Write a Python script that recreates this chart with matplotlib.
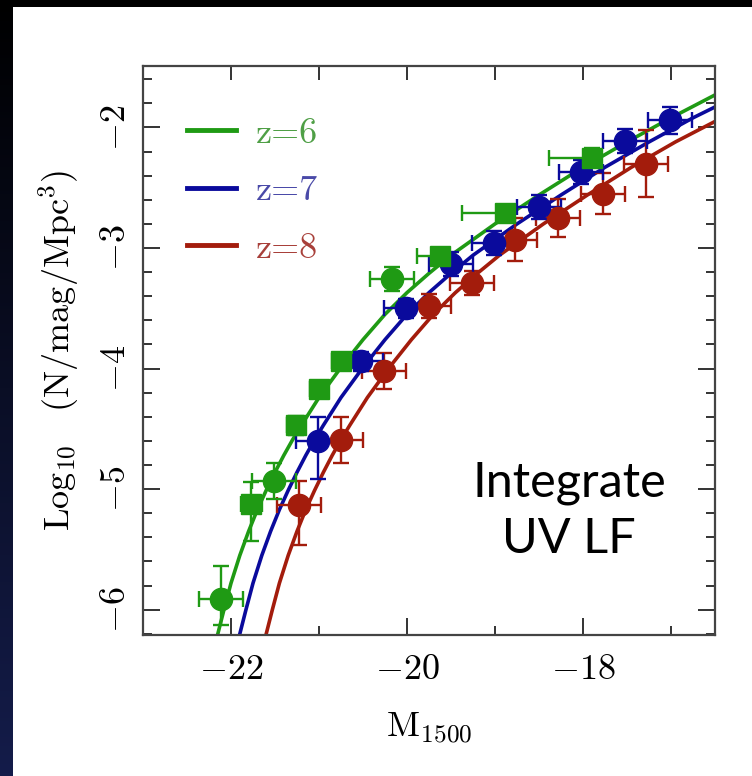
import numpy as np
import matplotlib.pyplot as plt
from matplotlib.colors import LinearSegmentedColormap
from matplotlib.ticker import MultipleLocator, FixedLocator, FuncFormatter, NullFormatter

plt.rcParams['mathtext.fontset'] = 'cm'

# colours
c6 = '#1f9a14'
c7 = '#0a0a9c'
c8 = '#a31c0c'

# z=6 data (circles and squares)
z6_circ_m = [-22.11, -21.51, -20.17]
z6_circ_phi = [-5.91, -4.93, -3.26]
z6_circ_dm = [0.25, 0.25, 0.25]
z6_circ_lo = [0.22, 0.15, 0.10]
z6_circ_hi = [0.27, 0.15, 0.10]

z6_sq_m = [-21.77, -21.26, -21.00, -20.75, -19.62, -18.89, -17.90]
z6_sq_phi = [-5.12, -4.47, -4.17, -3.94, -3.07, -2.71, -2.25]
z6_sq_dm_lo = [0.12, 0.10, 0.10, 0.10, 0.27, 0.49, 0.49]
z6_sq_dm_hi = [0.12, 0.10, 0.10, 0.10, 0.10, 0.10, 0.10]
z6_sq_lo = [0.31, 0.08, 0.07, 0.06, 0.06, 0.06, 0.08]
z6_sq_hi = [0.18, 0.08, 0.07, 0.06, 0.06, 0.06, 0.08]

# z=7 data
z7_m = [-21.01, -20.52, -20.01, -19.50, -19.01, -18.50, -18.02, -17.52, -17.01]
z7_phi = [-4.60, -3.94, -3.50, -3.13, -2.96, -2.66, -2.37, -2.11, -1.94]
z7_dm = [0.25, 0.25, 0.25, 0.25, 0.25, 0.25, 0.25, 0.25, 0.25]
z7_lo = [0.32, 0.08, 0.08, 0.10, 0.10, 0.10, 0.10, 0.10, 0.11]
z7_hi = [0.20, 0.08, 0.08, 0.10, 0.10, 0.10, 0.10, 0.10, 0.11]

# z=8 data
z8_m = [-21.23, -20.75, -20.26, -19.75, -19.26, -18.77, -18.28, -17.77, -17.28]
z8_phi = [-5.13, -4.59, -4.02, -3.48, -3.29, -2.93, -2.75, -2.55, -2.30]
z8_dm = [0.25, 0.25, 0.25, 0.25, 0.25, 0.25, 0.25, 0.25, 0.25]
z8_lo = [0.33, 0.19, 0.15, 0.10, 0.10, 0.18, 0.16, 0.17, 0.28]
z8_hi = [0.20, 0.19, 0.15, 0.10, 0.10, 0.18, 0.16, 0.17, 0.28]

# fitted curves
fit6_m = [-22.16, -22.08, -22.0, -21.9, -21.8, -21.7, -21.6, -21.5, -21.4, -21.3, -21.2,
          -21.0, -20.75, -20.5, -20.25, -20.0, -19.75, -19.5, -19.0, -18.5, -18.0,
          -17.5, -17.0, -16.5]
fit6_phi = [-6.23, -6.00, -5.78, -5.55, -5.35, -5.17, -5.01, -4.86, -4.72, -4.59, -4.47,
            -4.24, -3.99, -3.76, -3.55, -3.37, -3.21, -3.06, -2.80, -2.56, -2.33,
            -2.12, -1.92, -1.73]
fit7_m = [-21.91, -21.83, -21.75, -21.65, -21.55, -21.45, -21.35, -21.25, -21.15, -21.05,
          -20.95, -20.75, -20.5, -20.25, -20.0, -19.75, -19.5, -19.25, -18.75, -18.25,
          -17.75, -17.25, -16.75, -16.5]
fit7_phi = [-6.23, -6.00, -5.78, -5.55, -5.35, -5.17, -5.01, -4.86, -4.72, -4.59,
            -4.47, -4.24, -3.99, -3.76, -3.55, -3.37, -3.21, -3.06, -2.80, -2.56,
            -2.33, -2.12, -1.92, -1.83]
fit8_m = [-21.61, -21.53, -21.45, -21.35, -21.25, -21.15, -21.05, -20.95, -20.85, -20.75,
          -20.65, -20.45, -20.2, -19.95, -19.7, -19.45, -19.2, -18.95, -18.45, -17.95,
          -17.45, -16.95, -16.5]
fit8_phi = [-6.23, -6.00, -5.78, -5.55, -5.35, -5.17, -5.01, -4.86, -4.72, -4.59,
            -4.47, -4.24, -3.99, -3.76, -3.55, -3.37, -3.21, -3.06, -2.80, -2.56,
            -2.33, -2.12, -1.95]

fig = plt.figure(figsize=(7.52, 7.76), dpi=100)
fig.patch.set_facecolor('white')

# slide background: black top strip, dark blue strip on the left
bg = fig.add_axes([0, 0, 13 / 752, 1])
grad = np.linspace(0, 1, 256).reshape(-1, 1)
bg.imshow(grad, aspect='auto', origin='lower', extent=[0, 1, 0, 1],
          cmap=LinearSegmentedColormap.from_list('slide', ['#141c4a', '#000000']))
bg.set_axis_off()
top = fig.add_axes([0, 1 - 7 / 776, 1, 7 / 776])
top.set_facecolor('black')
top.set_xticks([])
top.set_yticks([])
for s in top.spines.values():
    s.set_visible(False)

ax = fig.add_axes([143 / 752, 141 / 776, 572 / 752, 569 / 776])

ax.plot(fit6_m, fit6_phi, color=c6, lw=2.6, label='z=6', zorder=2)
ax.plot(fit7_m, fit7_phi, color=c7, lw=2.6, label='z=7', zorder=2)
ax.plot(fit8_m, fit8_phi, color=c8, lw=2.6, label='z=8', zorder=2)

ekw = dict(lw=1.7, capsize=5.5, capthick=1.7, zorder=3, ls='none')
ax.errorbar(z8_m, z8_phi, xerr=z8_dm, yerr=[z8_lo, z8_hi], color=c8, marker='o', ms=16, **ekw)
ax.errorbar(z7_m, z7_phi, xerr=z7_dm, yerr=[z7_lo, z7_hi], color=c7, marker='o', ms=16, **ekw)
ax.errorbar(z6_circ_m, z6_circ_phi, xerr=z6_circ_dm, yerr=[z6_circ_lo, z6_circ_hi],
            color=c6, marker='o', ms=16, **ekw)
ax.errorbar(z6_sq_m, z6_sq_phi, xerr=[z6_sq_dm_lo, z6_sq_dm_hi], yerr=[z6_sq_lo, z6_sq_hi],
            color=c6, marker='s', ms=14, **ekw)

ax.set_xlim(-23, -16.5)
ax.set_ylim(-6.21, -1.49)

ax.xaxis.set_major_locator(FixedLocator([-22, -20, -18]))
ax.xaxis.set_minor_locator(FixedLocator([-21, -19, -17]))
ax.yaxis.set_major_locator(MultipleLocator(1))
ax.yaxis.set_minor_locator(MultipleLocator(0.2))
fmt = FuncFormatter(lambda v, p: r'$%d$' % round(v))
ax.xaxis.set_major_formatter(fmt)
ax.yaxis.set_major_formatter(fmt)

ax.tick_params(which='both', direction='in', top=False, right=True, color='#333333', width=1.4)
ax.tick_params(which='major', length=12, labelsize=26)
ax.tick_params(which='minor', length=6.5)
ax.tick_params(axis='x', which='major', pad=12)
ax.tick_params(axis='y', which='major', pad=8)
for lab in ax.get_yticklabels():
    lab.set_rotation(90)
    lab.set_va('center')

sec = ax.secondary_xaxis('top')
sec.xaxis.set_major_locator(FixedLocator([-22, -21, -20, -19, -18, -17]))
sec.xaxis.set_major_formatter(NullFormatter())
sec.tick_params(direction='in', length=10, width=1.4, color='#333333')
sec.spines['top'].set_visible(False)

for s in ax.spines.values():
    s.set_linewidth(1.6)
    s.set_color('#444444')

ax.set_xlabel(r'$\mathrm{M_{1500}}$', fontsize=26)
ax.set_ylabel(r'$\mathrm{Log_{10}\ \ \ (N/mag/Mpc^3)}$', fontsize=26)
ax.xaxis.set_label_coords(0.5, -0.133)
ax.yaxis.set_label_coords(-0.108, 0.5)

leg = ax.legend(loc='upper left', bbox_to_anchor=(0.027, 0.96), frameon=False,
                prop={'family': 'cmr10', 'size': 26}, handlelength=1.35,
                handletextpad=0.55, labelspacing=0.7, borderaxespad=0.4,
                labelcolor=['#4f9f46', '#4a4aa8', '#a8403a'])
for h in leg.legend_handles:
    h.set_linewidth(3.5)

ax.text(-18.16, -5.18, 'Integrate\nUV LF', fontsize=35, family='Lato',
        ha='center', va='center', linespacing=1.35, color='black')

fig.savefig('out.png', dpi=100)
